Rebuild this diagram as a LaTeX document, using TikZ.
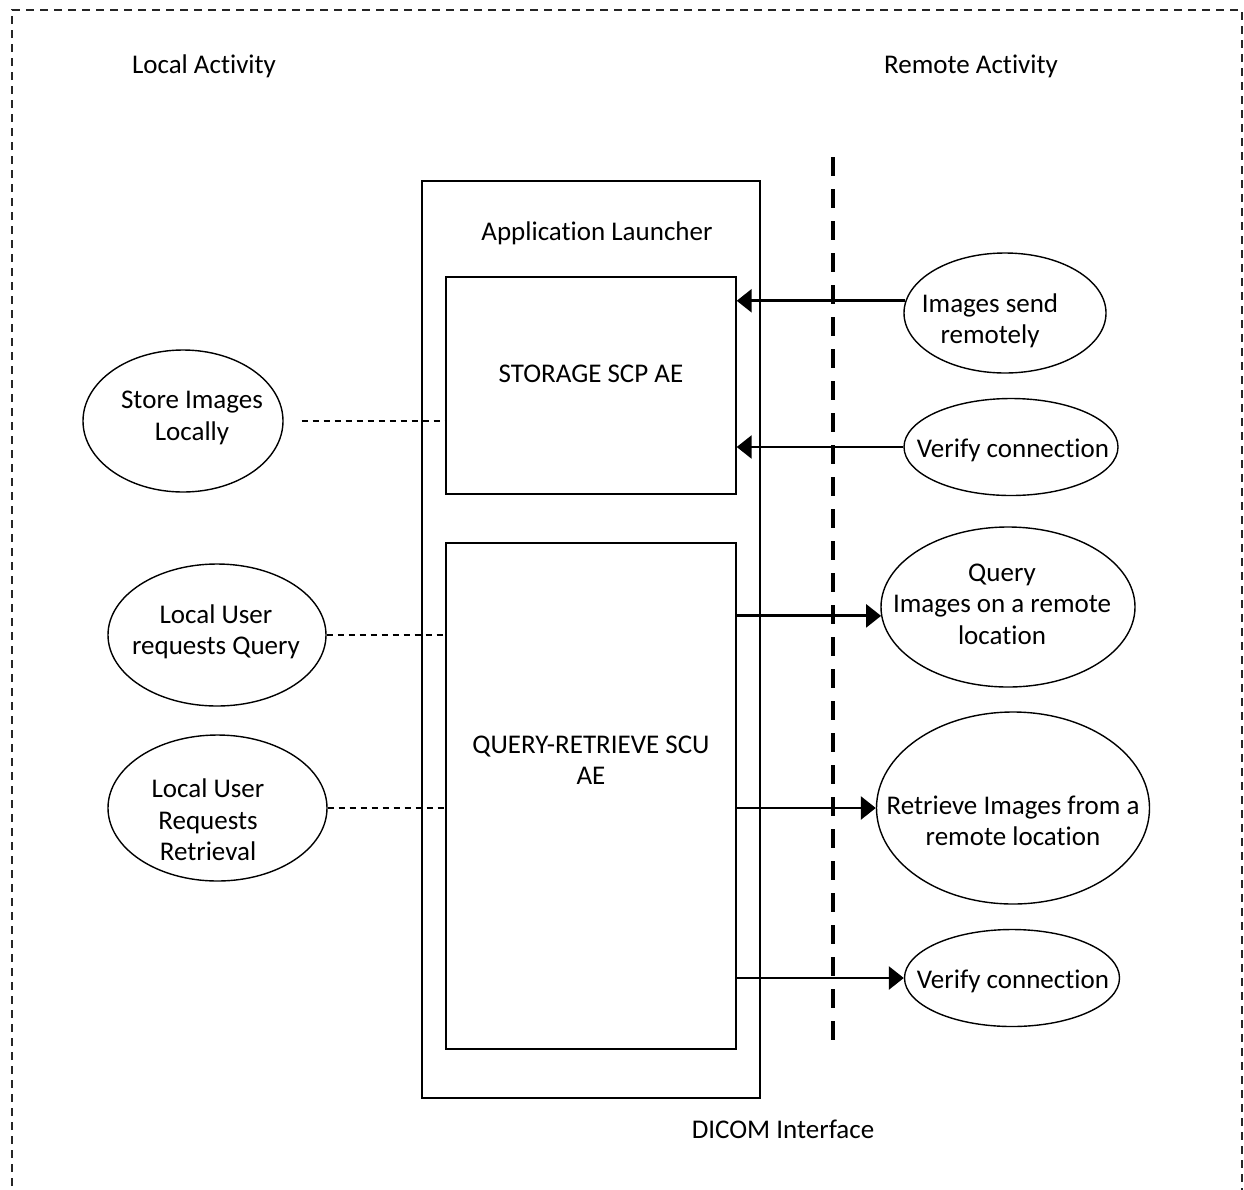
\documentclass[tikz,border=0pt]{standalone}
\usepackage{fontspec}
\setmainfont{Carlito}[Ligatures=NoCommon]
\usetikzlibrary{shapes.geometric,arrows.meta,calc}
\newcommand\dfont{\fontsize{27pt}{31.5pt}\selectfont}
\begin{document}
\begin{tikzpicture}[x=1pt,y=-1pt,
  ell/.style={draw, ellipse, line width=1.4pt, inner sep=0pt},
  boxnode/.style={draw, line width=1.4pt, inner sep=0pt, rectangle},
  txt/.style={inner sep=0pt, align=center, font=\dfont},
  arr/.style={line width=2.8pt, -{Triangle[length=15pt,width=23pt]}},
  dline/.style={line width=1.3pt, dash pattern=on 6pt off 5pt},
  thickdash/.style={line width=4pt, dash pattern=on 19pt off 13pt},
  borderline/.style={line width=1.3pt, black!85, dash pattern=on 8pt off 6pt}
]
\useasboundingbox (0,0) rectangle (1244,1189);

% outer dashed frame (open at bottom)
\coordinate (fbl) at (12,1200);
\coordinate (ftl) at (12,10);
\coordinate (ftr) at (1242,10);
\coordinate (fbr) at (1242,1200);
\draw[borderline] (fbl) -- (ftl) -- (ftr) -- (fbr);

% headings
\node[txt] (local) at (204,66) {Local Activity};
\node[txt] (remote) at (971,66) {Remote Activity};
\node[txt] (dicom) at (783,1129) {DICOM Interface};

% boxes
\node[boxnode, minimum width=338pt, minimum height=917pt] (app) at (591,639.5) {};
\node[boxnode, minimum width=290pt, minimum height=217pt] (sto) at (591,385.5) {};
\node[boxnode, minimum width=290pt, minimum height=506pt] (qr) at (591,796) {};
\node[txt] (applbl) at (597,233) {Application Launcher};
\node[txt] (stolbl) at (591,374) {STORAGE SCP AE};
\node[txt] (qrlbl) at (591,760) {QUERY-RETRIEVE SCU\\AE};

% DICOM interface line
\coordinate (dtop) at (833,157);
\coordinate (dbot) at (833,1049);
\draw[thickdash] (dtop) -- (dbot);

% left ellipses
\node[ell, minimum width=200pt, minimum height=142pt] (sl) at (183,421) {};
\node[ell, minimum width=218pt, minimum height=142pt] (lq) at (217,635) {};
\node[ell, minimum width=219pt, minimum height=146pt] (lr) at (217.5,808) {};
\node[txt] (slt) at (192,418) {Store Images\\Locally};
\node[txt] (lqt) at (216,632) {Local User\\requests Query};
\node[txt] (lrt) at (208,820) {Local User\\Requests\\Retrieval};

% right ellipses
\node[ell, minimum width=202pt, minimum height=120pt] (img) at (1005,313) {};
\node[ell, minimum width=214pt, minimum height=97pt] (vc1) at (1011,447) {};
\node[ell, minimum width=254pt, minimum height=160pt] (q) at (1008,607) {};
\node[ell, minimum width=273pt, minimum height=192pt] (rt) at (1013,808) {};
\node[ell, minimum width=215pt, minimum height=97pt] (vc2) at (1012,978) {};
\node[txt] (imgt) at (990,321) {Images send\\remotely};
\node[txt] (vc1t) at (1013,450) {Verify connection};
\node[txt] (qt) at (1002,604) {Query\\Images on a remote\\location};
\node[txt] (rtt) at (1013,821) {Retrieve Images from a\\remote location};
\node[txt] (vc2t) at (1013,981) {Verify connection};

% dashed associations
\draw[dline] ([xshift=18pt]sl.east) -- (sl.east -| sto.west);
\draw[dline] (lq.east) -- (lq.east -| qr.west);
\draw[dline] (lr.east) -- (lr.east -| qr.west);

% arrows
\draw[arr] (img.173) -- (img.173 -| sto.east);
\draw[arr] (vc1.west) -- (vc1.west -| sto.east);
\draw[arr] (qr.east |- q.184) -- (q.184);
\draw[arr] (qr.east |- rt.west) -- (rt.west);
\draw[arr] (qr.east |- vc2.west) -- (vc2.west);
\end{tikzpicture}
\end{document}
